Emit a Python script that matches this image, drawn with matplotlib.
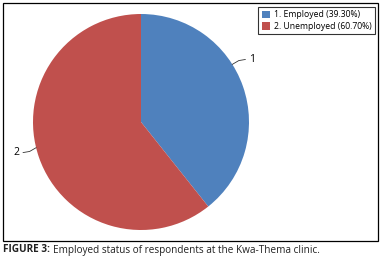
import matplotlib
matplotlib.use("Agg")
import matplotlib.pyplot as plt
import numpy as np
from matplotlib.patches import Rectangle

# data
categories = ["1. Employed", "2. Unemployed"]
shares = [39.30, 60.70]
slice_labels = ["1", "2"]
colors = ["#4F81BD", "#C0504D"]

plt.rcParams['font.family'] = ['Open Sans', 'DejaVu Sans']

fig = plt.figure(figsize=(3.81, 2.65), dpi=100)

# frame around chart
fig.add_artist(Rectangle((3 / 381, 1 - 241 / 265), 375 / 381, 238 / 265,
                         transform=fig.transFigure, fill=False,
                         edgecolor="black", linewidth=0.9))

ax = fig.add_axes([33 / 381, 35 / 265, 216 / 381, 216 / 265])
wedges, _ = ax.pie(shares, colors=colors, startangle=90, counterclock=False,
                   wedgeprops=dict(linewidth=0))
ax.set_xlim(-1, 1)
ax.set_ylim(-1, 1)
ax.set_aspect("equal")
ax.axis("off")

# leader lines: shift from wedge middle (deg), direction of the text side
shifts = [13, -5.5]
sides = [1, -1]
for w, lab, sh, sd in zip(wedges, slice_labels, shifts, sides):
    ang = np.deg2rad((w.theta1 + w.theta2) / 2 + sh)
    x0, y0 = np.cos(ang), np.sin(ang)
    xs = [x0, x0 + sd * 0.06, x0 + sd * 0.12]
    ys = [y0, y0 + 0.035 * np.sign(y0), y0 + 0.045 * np.sign(y0)]
    ax.plot(xs, ys, color="#333333", lw=0.6, clip_on=False)
    ax.text(xs[-1] + sd * 0.03, ys[-1], lab, fontsize=7.5,
            ha="left" if sd > 0 else "right", va="center")

legend_labels = [f"{c} ({s:.2f}%)" for c, s in zip(categories, shares)]
leg = fig.legend(wedges, legend_labels, loc="upper right",
                 bbox_to_anchor=(375 / 381, 1 - 7 / 265), fontsize=6.2,
                 frameon=True, fancybox=False, edgecolor="black",
                 handlelength=1.0, handleheight=1.0, handletextpad=0.4,
                 borderpad=0.4, labelspacing=0.3, borderaxespad=0)
leg.get_frame().set_linewidth(0.8)

cap_y = 1 - 250 / 265
t1 = fig.text(3 / 381, cap_y, "FIGURE 3:", fontsize=7.2, fontweight="bold",
              va="center", ha="left", color="#222222")
fig.canvas.draw()
bb = t1.get_window_extent()
fig.text(bb.x1 / fig.bbox.width + 3 / 381, cap_y,
         "Employed status of respondents at the Kwa-Thema clinic.",
         fontsize=7.2, va="center", ha="left", color="#222222")

fig.savefig("out.png", dpi=100)
